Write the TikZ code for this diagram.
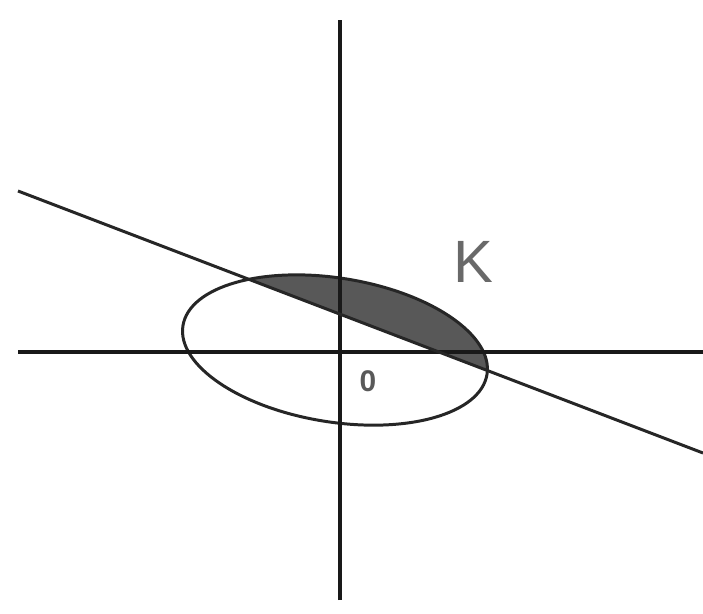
\documentclass[tikz,border=0pt]{standalone}
\usepackage{fontspec}
\setmainfont{Liberation Sans}
\definecolor{shadegray}{RGB}{88,88,88}
\definecolor{labelgray}{RGB}{105,105,105}
\tikzset{
  axis/.style={line width=2pt,black!90},
  curve/.style={line width=1.7pt,black!85},
  lbl/.style={inner sep=0pt,text=labelgray},
  oval/.style={rotate around={-9.1:(c)},x radius=3.08cm,y radius=1.44cm},
}
\begin{document}
\begin{tikzpicture}[x=0.02cm,y=0.02cm]
		  \useasboundingbox (0,0) rectangle (703,613);
		  \coordinate (yb) at (340,13);
		  \coordinate (yt) at (340,593);
		  \coordinate (xl) at (18,261);
		  \coordinate (xr) at (703,261);
		  \coordinate (ll) at (18,422);
		  \coordinate (lr) at (703,160);
		  \coordinate (c) at (335,263);
		  \begin{scope}
		    \clip[oval] (c) ellipse [];
		    \fill[shadegray] (ll) -- (lr) -- (703,613) -- (0,613) -- cycle;
		  \end{scope}
		  \draw[curve,oval] (c) ellipse [];
		  \draw[axis] (yb) -- (yt);
		  \draw[axis] (xl) -- (xr);
		  \draw[curve] (ll) -- (lr);
		  \node[lbl,font=\fontsize{34}{34}\selectfont] (K) at (473,351) {K};
		  \node[lbl,font=\fontsize{17}{17}\selectfont\bfseries,text=black!65] (zero) at (368,232) {0};
		\end{tikzpicture}
\end{document}
